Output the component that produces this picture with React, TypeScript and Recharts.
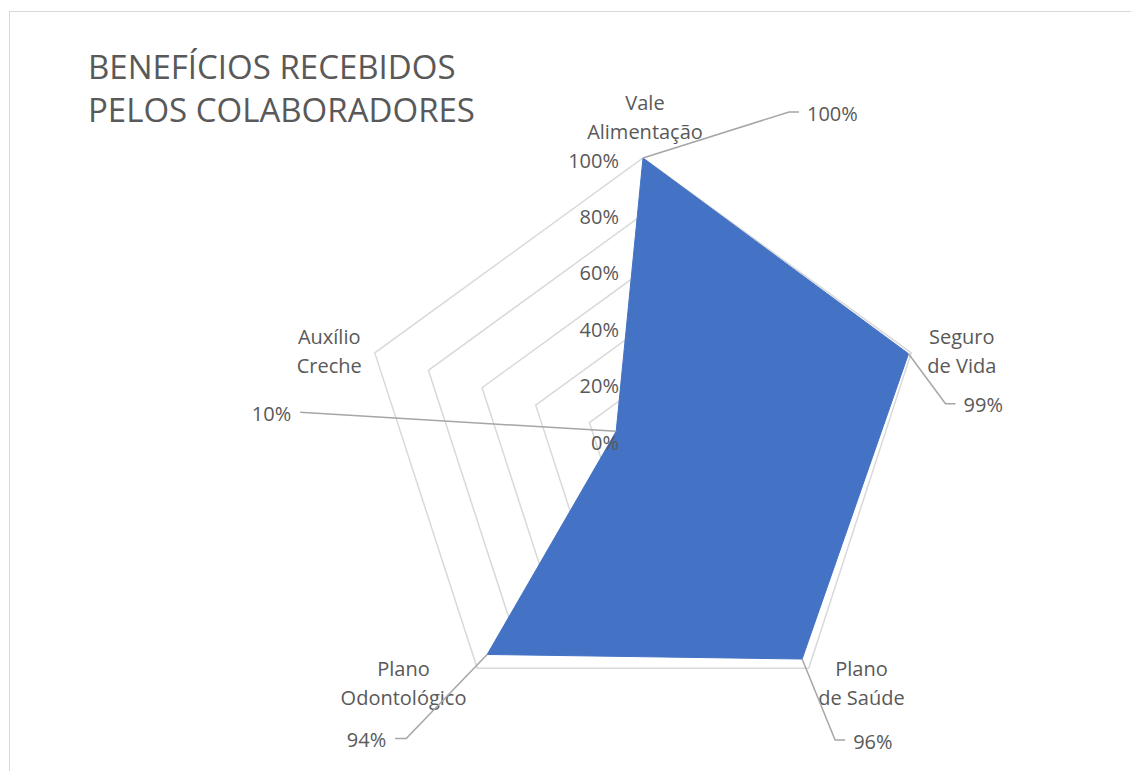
import { RadarChart, Radar, PolarGrid, PolarAngleAxis, PolarRadiusAxis } from 'recharts';

const categories = ['Vale Alimentação', 'Seguro de Vida', 'Plano de Saúde', 'Plano Odontológico', 'Auxílio Creche'];
const categoryLines = [
  ['Vale', 'Alimentação'],
  ['Seguro', 'de Vida'],
  ['Plano', 'de Saúde'],
  ['Plano', 'Odontológico'],
  ['Auxílio', 'Creche']
];
const shares = [1, 0.99, 0.96, 0.94, 0.1];
const radiusTicks = [0, 0.2, 0.4, 0.6, 0.8, 1];

const data = categories.map((name, i) => ({ name, value: shares[i] }));

// label placement (offsets from the axis tick / data point)
const catOffset = [
  [2, -48],
  [43, -14],
  [48, -6],
  [-69, -6],
  [-38, -14]
];
const leader = [
  { dx: 146, dy: -46, tail: 10 },
  { dx: 37, dy: 50, tail: 10 },
  { dx: 33, dy: 81, tail: 10 },
  { dx: -81, dy: 84, tail: -11 },
  { dx: -316, dy: -19, tail: 0 }
];

const TEXT = '#595959';
const FONT = '"Open Sans", sans-serif';
const FS = 20;

const pct = (v: number) => `${Math.round(v * 100)}%`;

function CategoryTick(props: any) {
  const { x, y, payload } = props;
  const i = categories.indexOf(payload.value);
  const [dx, dy] = catOffset[i];
  return (
    <g>
      {categoryLines[i].map((line, k) => (
        <text
          key={k}
          x={x + dx}
          y={y + dy + k * 29}
          textAnchor="middle"
          dominantBaseline="central"
          fill={TEXT}
          fontSize={FS}
          fontFamily={FONT}
        >
          {line}
        </text>
      ))}
    </g>
  );
}

function RadiusTick(props: any) {
  const { x, y, payload } = props;
  return (
    <text x={x - 24} y={y + 2} textAnchor="end" dominantBaseline="central" fill={TEXT} fontSize={FS} fontFamily={FONT}>
      {pct(payload.value)}
    </text>
  );
}

function ValueLabel(props: any) {
  const { x, y, value } = props;
  let i = props.index;
  if (i === undefined || i === null) i = shares.indexOf(value);
  const l = leader[i];
  const ex = x + l.dx;
  const ey = y + l.dy;
  const tx = ex + l.tail;
  const left = l.dx < 0;
  return (
    <g>
      <polyline points={`${x},${y} ${ex},${ey} ${tx},${ey}`} fill="none" stroke="#a6a6a6" strokeWidth={1.5} />
      <text
        x={left ? tx - 9 : tx + 8}
        y={ey + 1}
        textAnchor={left ? 'end' : 'start'}
        dominantBaseline="central"
        fill={TEXT}
        fontSize={FS}
        fontFamily={FONT}
      >
        {pct(value)}
      </text>
    </g>
  );
}

export default function App() {
  return (
    <div style={{ position: 'fixed', left: 0, top: 0, width: 1131, height: 771, overflow: 'hidden', background: '#fff' }}>
      <div
        style={{
          position: 'absolute',
          left: 9,
          top: 11,
          width: 1200,
          height: 800,
          borderLeft: '1px solid #d9d9d9',
          borderTop: '1px solid #d9d9d9'
        }}
      />
      <div
        style={{
          position: 'absolute',
          left: 88,
          top: 45,
          fontFamily: FONT,
          fontSize: 33,
          lineHeight: '43px',
          color: TEXT,
          whiteSpace: 'nowrap'
        }}
      >
        BENEFÍCIOS RECEBIDOS
        <br />
        PELOS COLABORADORES
      </div>
      <div style={{ position: 'absolute', left: 0, top: 0 }}>
        <RadarChart width={1131} height={771} cx={643} cy={440} outerRadius={282} data={data} margin={{ top: 0, right: 0, bottom: 0, left: 0 }}>
          <PolarGrid gridType="polygon" radialLines={false} stroke="#d9d9d9" strokeWidth={1.5} />
          <PolarAngleAxis dataKey="name" tick={CategoryTick} tickLine={false} axisLine={false} />
          <PolarRadiusAxis
            angle={90}
            type="number"
            domain={[0, 1]}
            ticks={radiusTicks}
            tick={RadiusTick}
            axisLine={false}
            tickLine={false}
          />
          <Radar
            dataKey="value"
            fill="#4472C4"
            fillOpacity={1}
            stroke="#4472C4"
            strokeWidth={1}
            dot={false}
            label={ValueLabel}
            isAnimationActive={false}
          />
        </RadarChart>
      </div>
    </div>
  );
}
